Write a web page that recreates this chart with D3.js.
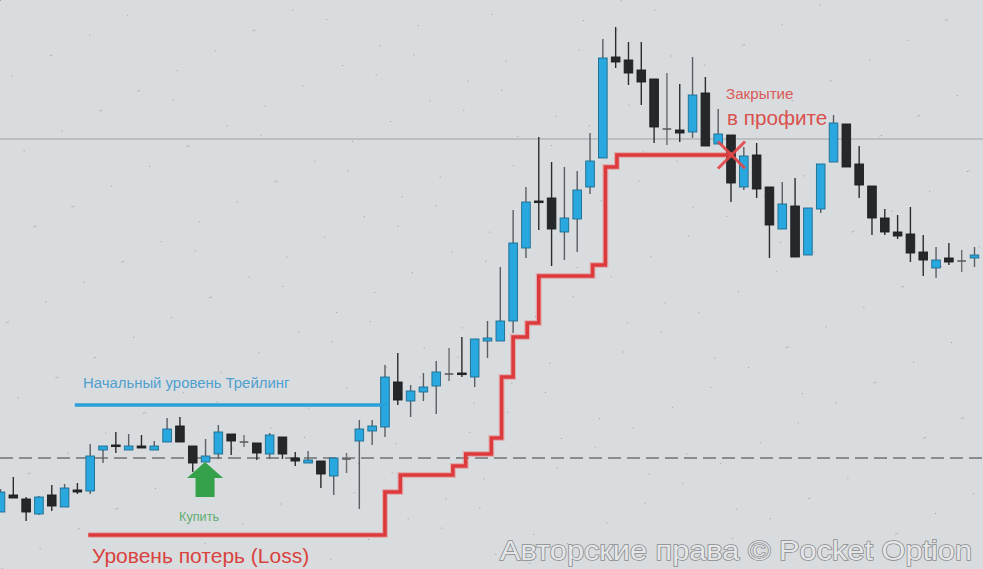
<!DOCTYPE html>
<html>
<head>
<meta charset="utf-8">
<script src="https://cdn.jsdelivr.net/npm/d3@7"></script>
<style>
  html, body { margin: 0; padding: 0; background: #d9dcde; overflow: hidden; }
  svg { display: block; }
</style>
</head>
<body>
<svg id="chart" width="983" height="569"></svg>
<script>
// ---- DATA (price in chart points) ----
const opens  = [88,105,101,86,105,93,110,109,150,155,150,154,150,158,174,154,138,146,166,158,157,146,163,142,137,139,124,141,159,169,173,218,199,208,214,226,227,223,259,259,279,352,399,402,368,381,413,442,543,540,530,521,471,470,468,507,456,465,413,445,413,371,394,345,391,438,476,436,414,382,368,366,348,332,342,339,342];
const highs  = [111,123,103,104,115,116,117,156,154,168,166,165,159,182,183,154,161,175,166,165,157,167,163,148,149,139,142,147,180,180,235,247,215,227,239,252,263,261,279,333,390,413,463,438,433,429,467,561,573,558,558,521,527,516,543,523,491,465,453,457,413,418,422,392,436,485,476,454,414,391,385,393,365,353,357,350,353];
const lows   = [88,102,79,85,89,93,106,106,137,147,150,152,150,158,158,128,138,141,145,153,140,141,141,134,137,112,105,127,91,155,163,195,183,199,186,219,223,213,242,259,267,342,370,334,340,348,406,442,532,515,495,457,455,458,462,454,456,398,410,402,342,371,343,345,387,438,433,402,365,365,361,338,324,322,335,328,333];
const closes = [108,102,88,103,94,112,108,144,154,154,154,152,154,171,158,137,144,168,159,158,147,165,146,139,140,126,142,141,171,174,223,200,209,213,228,226,226,261,262,279,357,398,398,371,382,410,439,542,538,527,518,473,471,467,505,454,466,417,444,411,375,396,343,392,436,477,433,415,382,368,364,347,340,340,338,339,345];

const entryLevel = 142;      // dashed line
const resistLevel = 461;     // thin grey line
const trailStartLevel = 195; // blue initial trailing level
const trailStartFrom = 5.8, trailStartTo = 30;

// trailing stop steps: [candle position, level]
const stopSteps = [[6.85,65],[30,108],[31.2,125],[35.3,134],[36.3,146],[38.3,162],[39.1,223],[40,263],[41.1,277],[42.0,324],[46.2,335],[47.2,433],[48.1,445],[57.1,445]];
const closeAt = [57, 447];   // exit mark (candle, level)

const labels = {
  trail: "Начальный уровень Трейлинг",
  loss: "Уровень потерь (Loss)",
  buy: "Купить",
  close1: "Закрытие",
  close2: "в профите",
  copy: "Авторские права © Pocket Option"
};
const buyIndex = 16;

// ---- CHART ----
const W = 983, H = 569;
const svg = d3.select("#chart");
svg.append("rect").attr("width", W).attr("height", H).attr("fill", "#d9dcde");

// subtle noise specks
const specks = svg.append("g").attr("fill", "#6d7276").attr("opacity", 0.55);
for (let i = 0; i < 260; i++) {
  const px = (i * 137.3) % W, py = (i * 59.7 + (i % 7) * 31) % H;
  specks.append("rect").attr("x", px).attr("y", py).attr("width", 1).attr("height", 1);
}

const n = opens.length;
const x = d3.scaleLinear().domain([0, n - 1]).range([0.5, 974.5]);
const y = d3.scaleLinear().domain([0, 600]).range([600, 0]);
const bodyW = 8.6;

// thin grey resistance line
svg.append("line").attr("x1", 0).attr("x2", W)
  .attr("y1", y(resistLevel)).attr("y2", y(resistLevel))
  .attr("stroke", "#9ea2a6").attr("stroke-width", 1.2);

// dashed entry line
svg.append("line").attr("x1", 0).attr("x2", W)
  .attr("y1", y(entryLevel)).attr("y2", y(entryLevel))
  .attr("stroke", "#3b3e41").attr("stroke-width", 1.1)
  .attr("stroke-dasharray", "13,6");

// candles
const candles = d3.range(n).map(i => ({ i, o: opens[i], h: highs[i], l: lows[i], c: closes[i] }));
const g = svg.append("g");
const cg = g.selectAll("g.c").data(candles).join("g");
cg.append("line")
  .attr("x1", d => x(d.i)).attr("x2", d => x(d.i))
  .attr("y1", d => y(d.h)).attr("y2", d => y(d.l))
  .attr("stroke", d => d.c > d.o ? "#5a5e62" : (d.c === d.o ? "#6a6d70" : "#2a2d30"))
  .attr("stroke-width", 1.4);
cg.append("rect")
  .attr("x", d => x(d.i) - bodyW / 2)
  .attr("width", bodyW)
  .attr("y", d => y(Math.max(d.o, d.c)) - (d.o === d.c ? 0.8 : 0))
  .attr("height", d => Math.max(1.6, Math.abs(y(d.o) - y(d.c))))
  .attr("fill", d => d.c > d.o ? "#29a8e0" : (d.c === d.o ? "#5c5f62" : "#25282b"))
  .attr("stroke", d => d.c > d.o ? "#1e6a8e" : (d.c === d.o ? "#5c5f62" : "#1b1d1f"))
  .attr("stroke-width", d => d.c === d.o ? 0 : 0.9);

// blue initial trailing line
svg.append("line")
  .attr("x1", x(trailStartFrom)).attr("x2", x(trailStartTo) + 2)
  .attr("y1", y(trailStartLevel)).attr("y2", y(trailStartLevel))
  .attr("stroke", "#2b9fd8").attr("stroke-width", 3.4);
svg.append("text").attr("x", 83).attr("y", 388)
  .attr("font-family", "Liberation Sans, Arial, sans-serif").attr("font-size", 14.9)
  .attr("fill", "#4f9fd0").text(labels.trail);

// red stepped stop line
const stepLine = d3.line().x(d => x(d[0])).y(d => y(d[1])).curve(d3.curveStepAfter);
svg.append("path").datum(stopSteps).attr("d", stepLine)
  .attr("fill", "none").attr("stroke", "#e8797b").attr("stroke-width", 6).attr("opacity", 0.45);
svg.append("path").datum(stopSteps).attr("d", stepLine)
  .attr("fill", "none").attr("stroke", "#dd3a3e").attr("stroke-width", 3.6);

// exit X mark
const cx = x(closeAt[0]) + 0.5, cy = y(closeAt[1]) + 2;
const s = 13.5;
[[-1, -1, 1, 1], [-1, 1, 1, -1]].forEach(([a, b, c2, d2]) => {
  svg.append("line").attr("x1", cx + a * s).attr("y1", cy + b * s)
    .attr("x2", cx + c2 * s).attr("y2", cy + d2 * s)
    .attr("stroke", "#e2474a").attr("stroke-width", 3).attr("opacity", 0.92);
});

svg.append("text").attr("x", 726).attr("y", 99)
  .attr("font-family", "Liberation Sans, Arial, sans-serif").attr("font-size", 15.2)
  .attr("fill", "#d95a58").text(labels.close1);
svg.append("text").attr("x", 727).attr("y", 125)
  .attr("font-family", "Liberation Sans, Arial, sans-serif").attr("font-size", 20.7)
  .attr("fill", "#d9504d").text(labels.close2);

// buy arrow
const ax = x(buyIndex) - 0.5, ay = y(entryLevel) + 4;
const arrow = [[ax, ay], [ax + 18, ay + 16], [ax + 9.5, ay + 16], [ax + 9.5, ay + 35],
  [ax - 9.5, ay + 35], [ax - 9.5, ay + 16], [ax - 18, ay + 16]];
svg.append("path").attr("d", d3.line()(arrow) + "Z").attr("fill", "#35a24b");
svg.append("text").attr("x", 179).attr("y", 521)
  .attr("font-family", "Liberation Sans, Arial, sans-serif").attr("font-size", 12.7)
  .attr("fill", "#5fae70").text(labels.buy);

// loss label
svg.append("text").attr("x", 92).attr("y", 563)
  .attr("font-family", "Liberation Sans, Arial, sans-serif").attr("font-size", 21)
  .attr("fill", "#d8423f").text(labels.loss);

// watermark
svg.append("text").attr("x", 500).attr("y", 560)
  .attr("font-family", "Liberation Sans, Arial, sans-serif").attr("font-size", 28)
  .attr("textLength", 472).attr("lengthAdjust", "spacingAndGlyphs")
  .attr("fill", "#e6e8ea").attr("stroke", "#7f8285").attr("stroke-width", 1.5)
  .attr("paint-order", "stroke").attr("opacity", 0.9)
  .text(labels.copy);
</script>
</body>
</html>
